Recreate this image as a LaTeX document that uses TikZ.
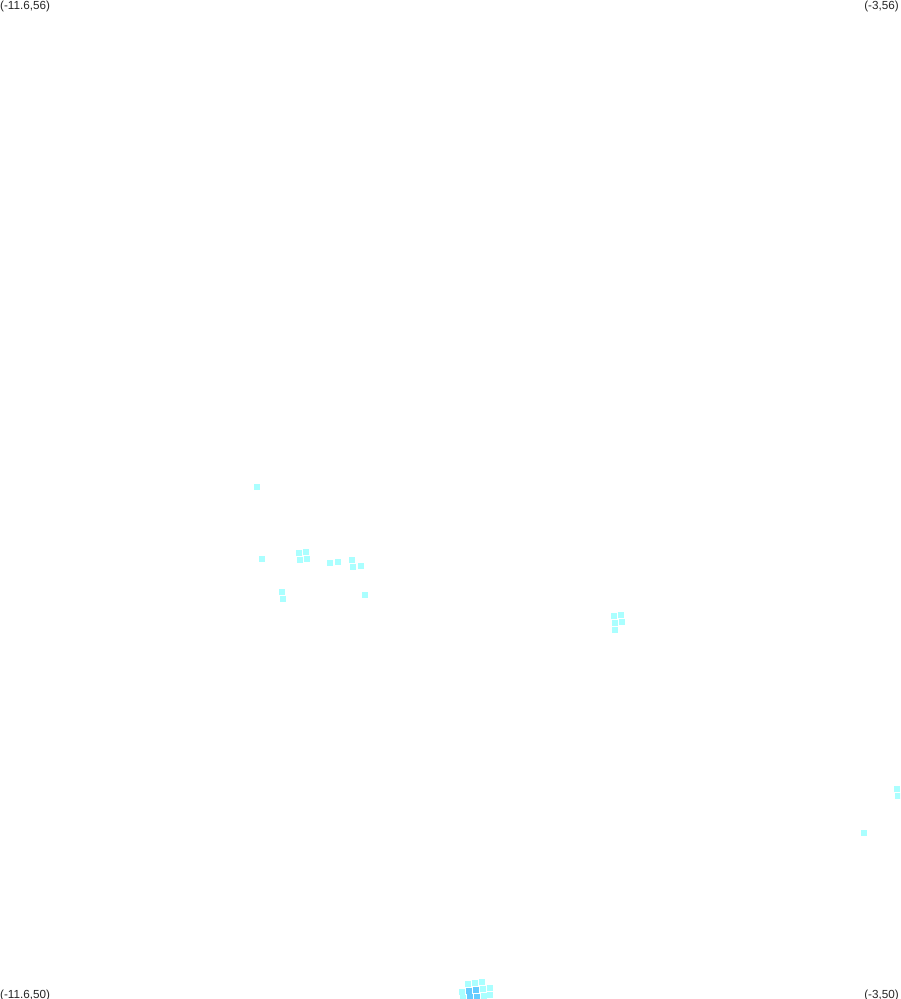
\documentclass[tikz,border=0pt]{standalone}
\usepackage{fontspec}
\setmainfont{Liberation Sans}
\definecolor{lightcell}{HTML}{AAFFFF}
\definecolor{darkcell}{HTML}{66CCFF}
\tikzset{
  cell/.style={fill=#1,draw=none,minimum size=6.6pt,inner sep=0pt,outer sep=0pt,rectangle},
  cornerlabel/.style={font=\fontsize{11.7pt}{13pt}\selectfont,inner sep=0pt,text=black!85}
}
\begin{document}
\begin{tikzpicture}[x=1pt,y=-1pt]
\useasboundingbox (0,0) rectangle (900,999);
\clip (0,0) rectangle (900,999);
\fill[white] (0,0) rectangle (900,999);
\foreach \x/\y in {257/487,262/559,299/553,306/552,300/560,307/559,330/563,338/562,352/560,353/567,361/566,282/592,283/599,365/595,
  614/616,621/615,615/623,622/622,615/630,897/789,898/796,864/833,
  468/984,475/983,482/982,462/992,483/989,490/988,463/998.5,484/996,490/995}
  \node[cell=lightcell] at (\x,\y) {};
\foreach \x/\y in {469/991,476/990,470/997.5,477/997}
  \node[cell=darkcell] at (\x,\y) {};
\node[cornerlabel,anchor=west] (tl) at (0,6.5) {(-11.6,56)};
\node[cornerlabel,anchor=east] (tr) at (899,6.5) {(-3,56)};
\node[cornerlabel,anchor=west] (bl) at (0,995) {(-11.6,50)};
\node[cornerlabel,anchor=east] (br) at (899,995) {(-3,50)};
\end{tikzpicture}
\end{document}
